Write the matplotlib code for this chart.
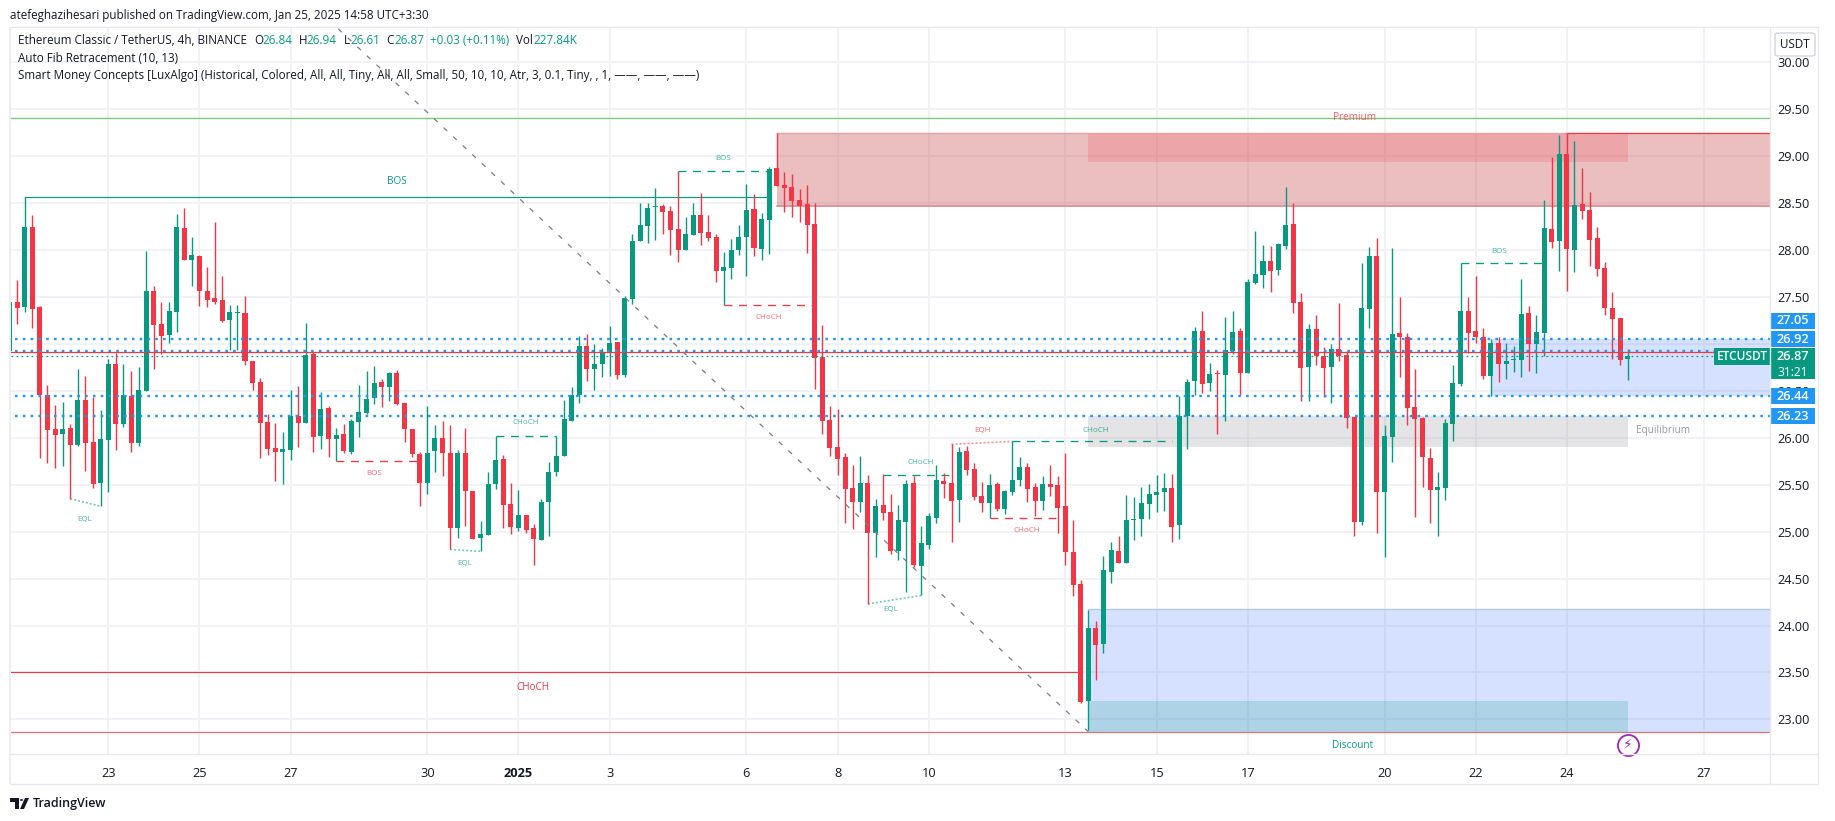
import matplotlib
matplotlib.use("Agg")
import matplotlib.pyplot as plt
from matplotlib.patches import Rectangle, FancyBboxPatch, Circle, Polygon

W, H = 1835, 821
FONT = ["Open Sans", "DejaVu Sans"]
plt.rcParams["font.family"] = FONT

GREEN = "#089981"
RED = "#f23645"
BLUE = "#2196f3"
GRID = "#f0f1f4"
INK = "#131722"

opens = [26.92,27.45,27.39,28.24,27.39,26.46,26.09,26.04,26.10,25.92,26.40,25.95,25.52,25.98,26.78,26.15,26.44,25.94,26.50,27.56,
 27.21,27.09,27.34,28.23,27.89,27.94,27.56,27.49,27.47,27.25,27.33,27.33,26.82,26.59,26.17,25.89,25.85,25.87,26.23,26.16,
 26.89,26.02,26.32,25.99,26.04,25.85,26.17,26.26,26.42,26.59,26.54,26.69,26.37,26.09,25.83,25.52,25.86,26.00,25.84,25.04,
 25.84,25.43,24.93,24.96,25.51,25.77,25.29,25.04,25.18,25.04,24.91,25.31,25.63,25.81,26.18,26.46,26.98,26.73,26.78,26.91,
 27.02,26.67,27.48,28.09,28.25,28.46,28.47,28.41,28.22,28.00,28.16,28.37,28.19,28.14,27.77,27.81,28.00,28.14,28.44,28.01,
 28.32,28.87,28.69,28.67,28.53,28.49,28.28,26.86,26.19,25.90,25.79,25.46,25.31,25.52,24.98,25.28,25.21,24.79,25.10,25.52,
 24.63,24.86,25.15,25.54,25.52,25.34,25.86,25.67,25.38,25.30,25.51,25.24,25.42,25.55,25.69,25.47,25.33,25.51,25.50,25.27,
 24.78,24.44,23.20,23.97,23.80,24.57,24.79,24.67,25.12,25.13,25.29,25.39,25.42,25.46,25.07,26.23,26.60,27.14,26.58,26.69,
 26.67,26.92,27.14,26.69,27.65,27.73,27.88,27.79,28.04,28.28,27.44,26.75,27.16,26.87,26.75,26.94,26.88,26.22,25.10,27.37,
 27.93,25.42,26.01,27.11,27.07,26.33,26.21,25.78,25.44,25.46,26.15,26.57,27.35,27.14,27.07,26.66,27.01,26.78,26.83,26.83,
 27.33,27.00,27.12,28.22,28.09,29.02,28.00,28.49,28.43,28.13,27.81,27.38,27.27,26.84]
highs = [27.44,27.68,28.56,28.37,27.40,26.56,26.35,26.38,26.15,26.73,26.66,26.43,26.29,26.84,26.90,26.78,26.71,26.75,27.99,27.62,
 27.44,27.44,28.38,28.45,28.14,27.95,27.82,28.30,27.72,27.41,27.41,27.51,26.82,26.64,26.25,26.16,26.06,26.51,26.55,27.22,
 26.91,26.49,26.34,26.10,26.15,26.20,26.56,26.71,26.76,26.63,26.70,26.72,26.37,26.09,25.85,26.34,26.14,26.18,26.13,25.87,
 26.10,25.43,25.11,25.63,26.02,25.82,25.52,25.44,25.18,25.08,25.35,25.74,26.02,26.40,26.54,27.08,27.10,27.00,26.95,27.19,
 27.02,27.51,28.17,28.50,28.50,28.66,28.49,28.47,28.84,28.35,28.50,28.61,28.37,28.17,27.98,28.12,28.26,28.70,28.60,28.39,
 28.88,29.24,28.83,28.81,28.65,28.69,28.50,27.20,26.34,26.31,25.84,25.71,25.80,25.60,25.35,25.61,25.40,25.28,25.55,25.59,
 25.06,25.20,25.71,25.62,25.93,25.90,25.91,25.73,25.53,25.61,25.53,25.44,25.96,25.79,25.73,25.52,25.59,25.71,25.59,25.84,
 25.12,24.48,24.17,24.05,24.74,24.89,24.95,25.39,25.37,25.47,25.51,25.60,25.62,25.61,26.44,26.63,27.18,27.35,26.80,26.72,
 27.29,27.35,27.17,27.69,28.20,28.05,28.04,28.07,28.67,28.50,27.54,27.21,27.31,26.97,27.00,27.43,26.92,26.22,27.86,28.03,
 28.13,26.14,28.02,27.50,27.12,26.73,26.22,25.89,25.64,26.20,26.77,27.86,27.50,27.72,27.17,27.05,27.07,27.01,26.98,27.69,
 27.40,27.31,28.53,28.99,29.22,29.25,29.16,28.87,28.62,28.24,27.87,27.55,27.27,26.94]
lows = [26.90,27.21,27.34,27.17,25.78,25.73,25.68,25.70,25.35,25.91,25.65,25.46,25.27,25.42,25.87,26.11,25.85,25.91,26.50,26.73,
 26.89,27.01,27.13,27.89,27.62,27.40,27.39,27.42,27.23,26.93,26.93,26.77,26.51,25.78,25.82,25.54,25.51,25.76,25.90,26.16,
 25.85,25.88,25.79,25.75,25.84,25.83,26.01,26.25,26.36,26.33,26.39,26.35,25.95,25.79,25.27,25.40,25.64,25.59,24.81,24.93,
 25.06,24.92,24.79,24.96,25.45,25.04,24.97,25.01,24.99,24.64,24.91,24.95,25.59,25.81,26.18,26.37,26.60,26.51,26.65,26.66,
 26.62,26.65,27.42,28.09,28.07,28.11,28.17,27.95,27.87,28.00,28.16,28.05,28.10,27.66,27.41,27.69,27.95,27.72,27.93,27.89,
 27.96,28.68,28.40,28.35,28.30,27.97,26.52,26.04,25.80,25.60,25.09,25.03,25.21,24.23,24.73,25.12,24.76,24.70,24.36,24.62,
 24.32,24.82,25.09,25.36,24.89,25.10,25.60,25.34,25.21,25.15,25.22,25.19,25.39,25.49,25.31,25.17,25.23,25.38,24.99,24.64,
 24.31,23.17,22.89,23.42,23.71,24.45,24.67,24.67,24.91,24.95,25.13,25.21,25.22,24.89,24.92,25.88,26.45,26.48,26.50,26.04,
 26.18,26.89,26.45,26.69,27.64,27.59,27.55,27.73,28.01,27.33,26.39,26.39,26.77,26.43,26.37,26.82,26.10,24.95,25.07,27.17,
 24.99,24.73,25.74,26.65,26.13,25.16,25.47,25.09,24.95,25.34,25.96,26.55,26.90,27.01,26.62,26.44,26.59,26.63,26.70,26.65,
 26.71,26.69,26.87,28.02,27.77,27.56,27.76,28.33,27.83,27.72,27.31,26.84,26.77,26.61]
closes = [27.44,27.38,28.24,27.37,26.45,26.08,26.03,26.09,25.92,26.40,25.94,25.51,25.99,26.78,26.15,26.45,25.94,26.51,27.56,27.20,
 27.08,27.35,28.24,27.89,27.95,27.56,27.47,27.45,27.24,27.34,27.33,26.82,26.58,26.16,25.88,25.85,25.88,26.23,26.16,26.88,
 26.01,26.31,25.99,26.03,25.86,26.18,26.27,26.41,26.58,26.54,26.69,26.36,26.09,25.83,25.52,25.84,26.00,25.84,25.04,25.84,
 25.43,24.92,24.97,25.51,25.76,25.28,25.05,25.18,25.02,24.92,25.32,25.63,25.81,26.20,26.46,26.98,26.73,26.78,26.91,27.01,
 26.67,27.49,28.10,28.27,28.45,28.47,28.40,28.21,28.00,28.17,28.37,28.18,28.13,27.77,27.82,28.00,28.14,28.43,28.02,28.33,
 28.86,28.68,28.66,28.52,28.47,28.26,26.85,26.18,25.89,25.77,25.45,25.31,25.52,24.99,25.27,25.20,24.79,25.12,25.51,24.64,
 24.88,25.17,25.55,25.51,25.33,25.85,25.66,25.37,25.30,25.50,25.24,25.43,25.55,25.69,25.45,25.33,25.51,25.48,25.25,24.78,
 24.43,23.18,23.97,23.79,24.59,24.80,24.67,25.12,25.13,25.30,25.40,25.42,25.46,25.05,26.23,26.59,27.14,26.57,26.68,26.68,
 26.93,27.13,26.69,27.66,27.74,27.88,27.78,28.06,28.27,27.43,26.74,27.16,26.87,26.74,26.94,26.87,26.21,25.10,27.38,27.93,
 25.42,26.02,27.10,27.07,26.32,26.20,25.79,25.44,25.48,26.16,26.58,27.35,27.12,27.07,26.66,27.01,26.78,26.82,26.84,27.32,
 27.00,27.13,28.23,28.08,29.02,28.01,28.48,28.41,28.11,27.80,27.38,27.26,26.83,26.87]

day_ticks = [13,25,37,55,67,79,97,109,121,139,151,163,181,193,205,223]
day_labels = ["23","25","27","30","2025","3","6","8","10","13","15","17","20","22","24","27"]
price_ticks = [23.0,23.5,24.0,24.5,25.0,25.5,26.0,26.5,27.0,27.5,28.0,28.5,29.0,29.5,30.0]
hidden_price_label = 27.0   # covered by the stacked last-price labels

dotted_levels = [27.05, 26.92, 26.44, 26.23]
red_level = 26.91
last_price = 26.87
premium_level = 29.41
discount_level = 22.87

# (start index, end index, start price, end price, colour)
dashed_segments = [(88,100,28.84,28.84,GREEN),(94,106,27.41,27.41,RED),(43,54,25.75,25.75,RED),
                   (64,72,26.02,26.02,GREEN),(115,124,25.60,25.60,GREEN),(132,153,25.96,25.96,GREEN),
                   (129,138,25.14,25.14,RED),(191,202,27.86,27.86,GREEN)]
dotted_segments = [(8,12,25.35,25.27,GREEN),(58,62,24.81,24.79,GREEN),(113,120,24.23,24.32,GREEN),(124,132,25.93,25.96,RED)]
solid_segments = [(2,100,28.56,GREEN),(0,141,23.50,RED),(205,232,29.25,RED)]
# (start index, end index, low price, high price, colour, alpha)
zones = [(101,232,28.47,29.24,"#c02830",0.30),(142,213,28.94,29.24,RED,0.18),
         (142,213,25.90,26.23,"#787b86",0.20),(142,232,22.87,24.18,"#2962ff",0.19),
         (142,213,22.87,23.20,GREEN,0.194),(195,232,26.44,27.05,"#2962ff",0.19)]
fib_x = [42, 142]
fib_y = [30.45, 22.87]

fig = plt.figure(figsize=(W/100, H/100), dpi=100, facecolor="white")
L, R, T, B = 11, 1770, 27, 754
ax = fig.add_axes([L/W, 1-B/H, (R-L)/W, (B-T)/H])
ax.set_xlim((L-9.5)/7.597, (R-9.5)/7.597)
ax.set_ylim(29-(B-156)/93.9, 29-(T-156)/93.9)
for s in ax.spines.values():
    s.set_visible(False)
ax.set_axisbelow(True)
ax.grid(True, color=GRID, lw=1.3)
ax.set_xticks(day_ticks)
ax.set_xticklabels(day_labels, fontsize=9.2, color=INK)
ax.get_xticklabels()[4].set_fontweight("bold")
ax.set_yticks(price_ticks)
ax.set_yticklabels(["" if p == hidden_price_label else f"{p:.2f}" for p in price_ticks], fontsize=9.2, color=INK)
ax.yaxis.tick_right()
ax.tick_params(axis="both", length=0)
ax.tick_params(axis="x", pad=9)
ax.tick_params(axis="y", pad=5)

for x0, x1, lo, hi, c, a in zones:
    ax.add_patch(Rectangle((x0, lo), x1-x0, hi-lo, facecolor=c, alpha=a, edgecolor="none", zorder=1.2))
ax.plot([101,232],[28.47,28.47],color="#d98a90",lw=1.2,zorder=1.3)
ax.plot([101,232],[29.24,29.24],color="#e3a0a5",lw=1.0,zorder=1.3)
ax.plot([142,232],[24.18,24.18],color="#b4c8ea",lw=1.0,zorder=1.3)

xs = list(range(len(opens)))
cols = [GREEN if c >= o else RED for o, c in zip(opens, closes)]
ax.vlines(xs, lows, highs, colors=cols, lw=1.0, zorder=3)
ax.bar(xs, [max(abs(c-o),0.012) for o, c in zip(opens, closes)], bottom=[min(o,c) for o, c in zip(opens, closes)],
       width=0.66, color=cols, lw=0, zorder=3.1)

for lev in dotted_levels:
    ax.plot([0.7,232],[lev,lev],color=BLUE,lw=1.7,ls=(0,(1.1,2.2)),dash_capstyle="butt",zorder=4)
ax.axhline(red_level,color=RED,lw=0.9,zorder=4.1)
ax.axhline(last_price,color=GREEN,lw=0.9,ls=(0,(1.4,2.6)),zorder=4.1)
ax.axhline(premium_level,color="#81c784",lw=1.0,zorder=2)
ax.axhline(discount_level,color="#d9747a",lw=0.9,zorder=2)
for x0, x1, p, c in solid_segments:
    ax.plot([x0,x1],[p,p],color=c,lw=0.85,zorder=2.5)
for x0, x1, y0, y1, c in dashed_segments:
    ax.plot([x0,x1],[y0,y1],color=c,lw=0.95,ls=(0,(6,5)),zorder=2.5)
for x0, x1, y0, y1, c in dotted_segments:
    ax.plot([x0,x1],[y0,y1],color=c,lw=1.2,alpha=0.55,ls=(0,(1.2,1.2)),zorder=2.5)
ax.plot(fib_x, fib_y, color="#787b86", lw=0.9, ls=(0,(4,6.5)), zorder=5)
ax.scatter([213],[22.73],s=230,facecolor="white",edgecolor="#9c27b0",lw=1.3,zorder=6,clip_on=False)
ax.text(213,22.73,"\u26a1",color="#9c27b0",fontsize=10,ha="center",va="center",zorder=7,family=["DejaVu Sans"])

def ftext(x, y, s, **kw):
    kw.setdefault("va", "center")
    kw.setdefault("color", INK)
    return fig.text(x/W, 1-y/H, s, **kw)

def box(x0, y0, x1, y1, **kw):
    fig.add_artist(Rectangle((x0/W, 1-y1/H), (x1-x0)/W, (y1-y0)/H, transform=fig.transFigure, **kw))

# pane frame
for a, b in [((11,27),(1818,27)),((11,754),(1818,754)),((11,784),(1818,784)),((1770,27),(1770,784)),((1818,27),(1818,784))]:
    fig.add_artist(plt.Line2D([a[0]/W,b[0]/W],[1-a[1]/H,1-b[1]/H],color="#e6e8ee",lw=1))
box(9,27,11,784,facecolor="#eceef3",edgecolor="none")

# texts on chart
small = [(723,158,"BOS",GREEN),(769,317,"CHoCH",RED),(85,519,"EQL",GREEN),(465,563,"EQL",GREEN),(374,473,"BOS",RED),
         (526,422,"CHoCH",GREEN),(891,609,"EQL",GREEN),(921,462,"CHoCH",GREEN),(982,430,"EQH",RED),(1096,430,"CHoCH",GREEN),
         (1027,530,"CHoCH",RED),(1499,251,"BOS",GREEN)]
for x,y,s,c in small:
    ftext(x,y,s,color=c,fontsize=5.8,ha="center",alpha=0.75)
ftext(397,182,"BOS",color=GREEN,fontsize=7.2,ha="center")
ftext(533,688,"CHoCH",color=RED,fontsize=7.2,ha="center")
ftext(1354,117,"Premium",color=RED,fontsize=7.2,ha="center",alpha=0.8)
ftext(1353,745,"Discount",color=GREEN,fontsize=7.2,ha="center")
ftext(1663,431,"Equilibrium",color="#9598a1",fontsize=7.2,ha="center")

# header
ftext(9.5,15,"atefeghazihesari published on TradingView.com, Jan 25, 2025 14:58 UTC+3:30",fontsize=8.4)
FS = 8.4
ftext(18,41,"Ethereum Classic / TetherUS, 4h, BINANCE",fontsize=FS)
for x,s,c in [(254,"O",INK),(262,"26.84",GREEN),(299,"H",INK),(306,"26.94",GREEN),(344,"L",INK),(350,"26.61",GREEN),
              (386,"C",INK),(394,"26.87",GREEN),(430,"+0.03 (+0.11%)",GREEN),(516,"Vol",INK),(533,"227.84K",GREEN)]:
    ftext(x,41,s,color=c,fontsize=FS)
ftext(18,59,"Auto Fib Retracement (10, 13)",fontsize=FS)
ftext(18,76,"Smart Money Concepts [LuxAlgo] (Historical, Colored, All, All, Tiny, All, All, Small, 50, 10, 10, Atr, 3, 0.1, Tiny, , 1, \u2014\u2014, \u2014\u2014, \u2014\u2014)",fontsize=FS)

# price-scale labels
fig.add_artist(FancyBboxPatch((1775/W,1-56/H),40/W,23/H,boxstyle="round,pad=0,rounding_size=0.002",transform=fig.transFigure,
                              facecolor="white",edgecolor="#d1d4dc",lw=1))
ftext(1795,44.5,"USDT",fontsize=8.4,ha="center")
for yc,s in [(321,"27.05"),(339,"26.92"),(396,"26.44"),(416,"26.23")]:
    box(1771,yc-8,1815,yc+8,facecolor=BLUE,edgecolor="none")
    ftext(1793,yc,s,color="white",fontsize=9.2,ha="center",fontweight="semibold")
box(1771,348,1815,365,facecolor=GREEN,edgecolor="none")
box(1771,365,1815,379,facecolor=GREEN,edgecolor="none")
box(1714,348,1770,365,facecolor=GREEN,edgecolor="none")
ftext(1793,356.5,"26.87",color="white",fontsize=9.2,ha="center",fontweight="semibold")
ftext(1793,372,"31:21",color="white",fontsize=8.6,ha="center")
ftext(1742,356.5,"ETCUSDT",color="white",fontsize=8.6,ha="center",fontweight="semibold")

# TradingView mark
def poly(pts):
    fig.add_artist(Polygon([(x/W,1-y/H) for x,y in pts],closed=True,transform=fig.transFigure,facecolor=INK,edgecolor="none"))
poly([(10,798),(19,798),(19,809),(15,809),(15,802),(10,802)])
poly([(25,798),(29,798),(24,809),(20,809)])
fig.add_artist(Circle((21.5/W,1-800/H),1.8/W,transform=fig.transFigure,facecolor=INK,edgecolor="none"))
ftext(33,803,"TradingView",fontsize=9.0,fontweight="semibold")

fig.savefig("out.png",dpi=100,facecolor="white")
